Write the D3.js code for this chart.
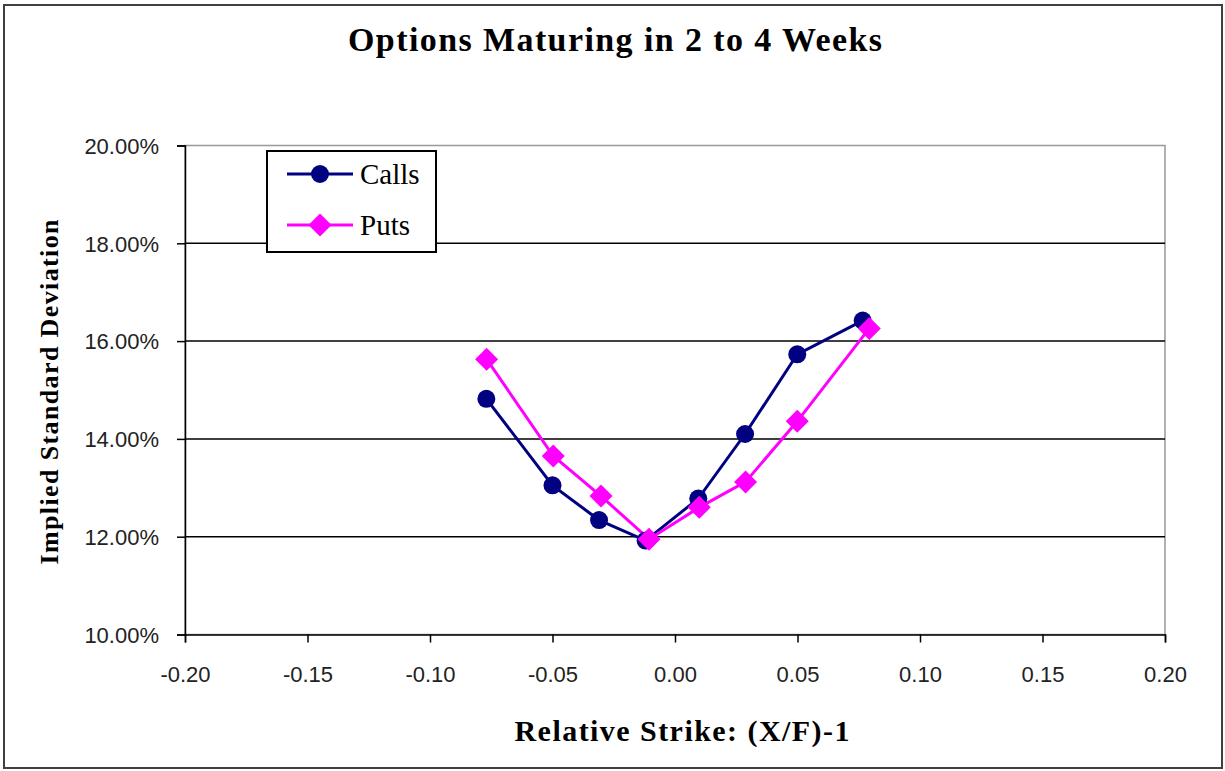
<!DOCTYPE html>
<html><head><meta charset="utf-8">
<script src="https://cdn.jsdelivr.net/npm/d3@7"></script>
<style>body{margin:0;background:#fff}svg{display:block}</style>
</head><body>
<script>
const callStrike = [-0.077, -0.050, -0.031, -0.012, 0.0095, 0.0286, 0.0499, 0.0766];
const callVol    = [14.82, 13.05, 12.34, 11.92, 12.78, 14.10, 15.73, 16.42];
const putStrike  = [-0.0769, -0.0497, -0.0302, -0.0106, 0.0099, 0.0288, 0.0499, 0.0793];
const putVol     = [15.63, 13.65, 12.83, 11.95, 12.60, 13.12, 14.36, 16.26];
const xTicks = [-0.20, -0.15, -0.10, -0.05, 0.00, 0.05, 0.10, 0.15, 0.20];
const yTicks = [10, 12, 14, 16, 18, 20];
const seriesNames = ["Calls", "Puts"];
const seriesColors = ["#000080", "#FF00FF"];

const W = 1225, H = 771;
const svg = d3.select("body").append("svg").attr("width", W).attr("height", H);
svg.append("rect").attr("x", 4).attr("y", 5).attr("width", 1218).attr("height", 763)
  .attr("fill", "#fff").attr("stroke", "#404040").attr("stroke-width", 2);

const x = d3.scaleLinear().domain([-0.2, 0.2]).range([185, 1165]);
const y = d3.scaleLinear().domain([10, 20]).range([634.5, 145.5]);

svg.append("rect").attr("x", 185).attr("y", 145.5).attr("width", 980).attr("height", 489)
  .attr("fill", "none").attr("stroke", "#999").attr("stroke-width", 1.5);
svg.append("g").selectAll("line").data(yTicks.filter(v => v > 10 && v < 20)).join("line")
  .attr("x1", 185).attr("x2", 1165).attr("y1", d => y(d)).attr("y2", d => y(d))
  .attr("stroke", "#000").attr("stroke-width", 1.5);

const xAxis = svg.append("g").attr("transform", `translate(0,${y(10)})`)
  .call(d3.axisBottom(x).tickValues(xTicks).tickSize(8).tickPadding(24)
    .tickFormat(d => d.toFixed(2).replace("−", "-")));
const yAxis = svg.append("g").attr("transform", `translate(${x(-0.2)},0)`)
  .call(d3.axisLeft(y).tickValues(yTicks).tickSize(8).tickPadding(18).tickFormat(d => d.toFixed(2) + "%"));
[xAxis, yAxis].forEach(g => {
  g.select(".domain").attr("stroke", "#000").attr("stroke-width", 1.5);
  g.selectAll(".tick line").attr("stroke", "#000").attr("stroke-width", 1.5);
  g.selectAll("text").attr("font-family", "'Liberation Sans', Arial, sans-serif")
    .attr("font-size", 22).attr("fill", "#222");
});
xAxis.selectAll("text").attr("dy", "0.71em");
yAxis.selectAll("text").attr("dy", "0.35em");

const data = [
  callStrike.map((s, i) => [s, callVol[i]]),
  putStrike.map((s, i) => [s, putVol[i]])
];
const line = d3.line().x(d => x(d[0])).y(d => y(d[1]));
const circle = d3.symbol().type(d3.symbolCircle).size(Math.PI * 9 * 9)();
const r = 11.5;
const diamond = `M0,${-r}L${r},0L0,${r}L${-r},0Z`;
const sym = [circle, diamond];

data.forEach((pts, k) => {
  svg.append("path").datum(pts).attr("d", line).attr("fill", "none")
    .attr("stroke", seriesColors[k]).attr("stroke-width", 3);
});
data.forEach((pts, k) => {
  svg.append("g").selectAll("path").data(pts).join("path")
    .attr("transform", d => `translate(${x(d[0])},${y(d[1])})`)
    .attr("d", sym[k]).attr("fill", seriesColors[k]);
});

const lg = svg.append("g");
lg.append("rect").attr("x", 267).attr("y", 151).attr("width", 169).attr("height", 101)
  .attr("fill", "#fff").attr("stroke", "#000").attr("stroke-width", 2);
seriesNames.forEach((n, k) => {
  const ly = [174, 225][k];
  lg.append("line").attr("x1", 287).attr("x2", 353).attr("y1", ly).attr("y2", ly)
    .attr("stroke", seriesColors[k]).attr("stroke-width", 3);
  lg.append("path").attr("transform", `translate(320,${ly})`).attr("d", sym[k]).attr("fill", seriesColors[k]);
  lg.append("text").attr("x", 360).attr("y", ly + 10).text(n)
    .attr("font-family", "'Liberation Serif', 'Times New Roman', serif").attr("font-size", 29);
});

svg.append("text").attr("x", 615).attr("y", 51).attr("text-anchor", "middle")
  .attr("font-family", "'Liberation Serif', 'Times New Roman', serif").attr("font-weight", "bold")
  .attr("font-size", 34).attr("textLength", 534).attr("lengthAdjust", "spacing")
  .text("Options Maturing in 2 to 4 Weeks");
svg.append("text").attr("x", 682).attr("y", 741).attr("text-anchor", "middle")
  .attr("font-family", "'Liberation Serif', 'Times New Roman', serif").attr("font-weight", "bold")
  .attr("font-size", 30).attr("textLength", 335).attr("lengthAdjust", "spacing")
  .text("Relative Strike: (X/F)-1");
svg.append("text").attr("transform", "translate(58,392) rotate(-90)").attr("text-anchor", "middle")
  .attr("font-family", "'Liberation Serif', 'Times New Roman', serif").attr("font-weight", "bold")
  .attr("font-size", 26).attr("textLength", 345).attr("lengthAdjust", "spacing")
  .text("Implied Standard Deviation");
</script>
</body></html>
